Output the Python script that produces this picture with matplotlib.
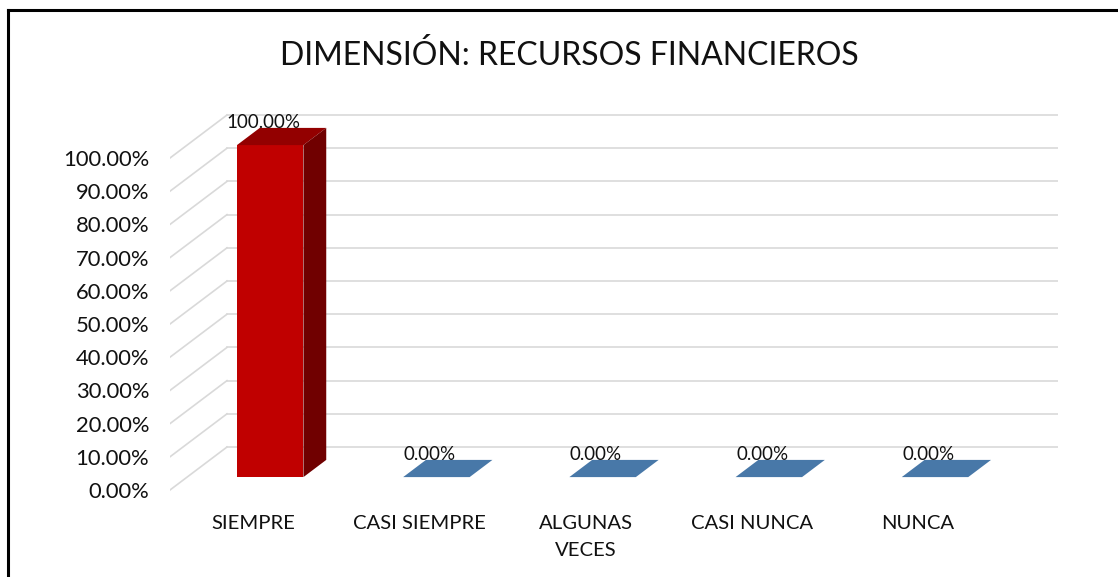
import matplotlib.pyplot as plt
from matplotlib.patches import Polygon
from matplotlib.lines import Line2D
import numpy as np

plt.rcParams['font.family'] = ['Lato', 'DejaVu Sans']

categories = ['SIEMPRE', 'CASI SIEMPRE', 'ALGUNAS\nVECES', 'CASI NUNCA', 'NUNCA']
values = [100.0, 0.0, 0.0, 0.0, 0.0]
yticks = [0, 10, 20, 30, 40, 50, 60, 70, 80, 90, 100]
title = 'DIMENSIÓN: RECURSOS FINANCIEROS'

front_colors = ['#C00000', '#4F81BD', '#4F81BD', '#4F81BD', '#4F81BD']
top_colors = ['#930000', '#4878A8', '#4878A8', '#4878A8', '#4878A8']
side_colors = ['#700000', '#3A6590', '#3A6590', '#3A6590', '#3A6590']

# pseudo 3d: depth vector in data units
DX, DY = 0.343, 12.95
D0, BD, W = 0.3, 0.4, 0.4

fig = plt.figure(figsize=(11.18, 5.77), dpi=100)
ax = fig.add_axes([170 / 1118, (577 - 506.6) / 577, 888 / 1118, (506.6 - 108.2) / 577])
ax.set_xlim(0, 5 + DX)
ax.set_ylim(-5, 115)
for s in ax.spines.values():
    s.set_visible(False)

# gridlines: floor diagonal + back wall
for v in yticks:
    ax.plot([0, DX], [v, v + DY], color='#d9d9d9', lw=1.2, zorder=1)
    ax.plot([DX, 5 + DX], [v + DY, v + DY], color='#d9d9d9', lw=1.2, zorder=1)

x = np.arange(len(categories)) + 0.5
xl = x - W / 2 + D0 * DX
b = D0 * DY
ax.bar(xl, values, width=W, bottom=b, align='edge', color=front_colors, zorder=3)
for i, v in enumerate(values):
    top = [(xl[i], v + b), (xl[i] + W, v + b),
           (xl[i] + W + BD * DX, v + b + BD * DY), (xl[i] + BD * DX, v + b + BD * DY)]
    ax.add_patch(Polygon(top, closed=True, color=top_colors[i], lw=0, zorder=3))
    if v > 0:
        side = [(xl[i] + W, b), (xl[i] + W + BD * DX, b + BD * DY),
                (xl[i] + W + BD * DX, v + b + BD * DY), (xl[i] + W, v + b)]
        ax.add_patch(Polygon(side, closed=True, color=side_colors[i], lw=0, zorder=3))
    ax.text(xl[i] + W / 2 - 0.04, v + b + 6.8, f'{v:.2f}%', ha='center', va='center',
            fontsize=13.5, color='#111111', zorder=4)

ax.set_yticks(yticks)
ax.set_yticklabels([f'{t:.2f}%' for t in yticks], fontsize=15.8, color='#111111')
ax.set_xticks(x)
ax.set_xticklabels(categories, fontsize=14.6, color='#111111', linespacing=1.75)
ax.tick_params(length=0, axis='y', pad=15)
ax.tick_params(length=0, axis='x', pad=6)

fig.text(0.509, 0.903, title, ha='center', va='center', fontsize=23, color='#111111')

# outer frame (top and left only are visible)
fig.add_artist(Line2D([8 / 1118, 1], [1 - 10 / 577] * 2, color='black', lw=2.2, transform=fig.transFigure))
fig.add_artist(Line2D([8 / 1118] * 2, [0, 1 - 10 / 577], color='black', lw=2.2, transform=fig.transFigure))

fig.savefig('out.png', dpi=100)
